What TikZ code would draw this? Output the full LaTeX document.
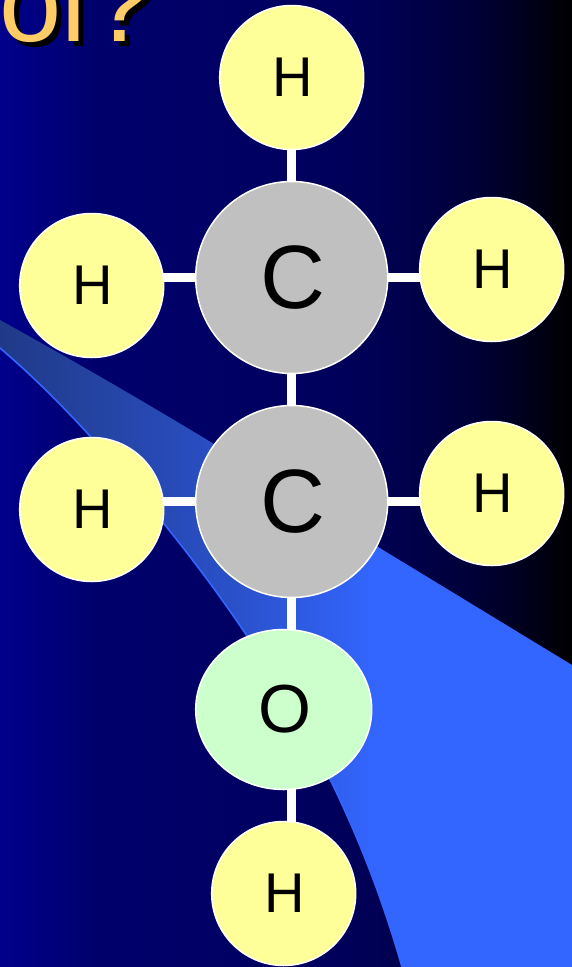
\documentclass[tikz,border=0pt]{standalone}
\usepackage{fontspec}
\setmainfont{Liberation Sans}
\usetikzlibrary{backgrounds,shapes.geometric}
\definecolor{bgl}{RGB}{0,0,140}
\definecolor{bgb}{RGB}{0,0,108}
\definecolor{bgc}{RGB}{0,0,96}
\definecolor{bgm}{RGB}{0,0,84}
\definecolor{bgn}{RGB}{0,0,55}
\definecolor{bge}{RGB}{0,0,25}
\definecolor{swa}{RGB}{32,58,135}
\definecolor{swb}{RGB}{42,80,200}
\definecolor{swc}{RGB}{51,102,255}
\definecolor{hyd}{RGB}{255,255,153}
\definecolor{carb}{RGB}{192,192,192}
\definecolor{oxy}{RGB}{204,255,204}
\definecolor{titlec}{RGB}{255,204,102}
% TikZ shows the middle 25bp..75bp of a declared shading across the path
\pgfdeclarehorizontalshading{bgshade}{100bp}{
  color(0bp)=(bgl); color(25bp)=(bgl); color(33.5bp)=(bgb); color(51bp)=(bgc); color(58bp)=(bgm); color(66.5bp)=(bgn); color(71.5bp)=(bge); color(75bp)=(black); color(100bp)=(black)}
\pgfdeclarehorizontalshading{swshade}{100bp}{
  color(0bp)=(swa); color(25bp)=(swa); color(45bp)=(swb); color(58bp)=(swc); color(100bp)=(swc)}
\tikzset{
  atom/.style={draw=white,line width=1.5pt,inner sep=0pt,text=black},
  hatom/.style={atom,circle,fill=hyd,minimum size=144pt,font=\fontsize{56}{56}\selectfont},
  catom/.style={atom,circle,fill=carb,minimum size=192pt,font=\fontsize{90}{90}\selectfont},
  oatom/.style={atom,ellipse,fill=oxy,minimum width=176pt,minimum height=160pt,font=\fontsize{68}{68}\selectfont},
  bond/.style={draw=white,line width=8.5pt},
  titletext/.style={inner sep=0pt,anchor=base west,font=\fontsize{112}{112}\selectfont}
}
\newcommand{\titlestr}{ol\hspace*{4pt}?}
\newcommand{\nudge}[1]{\hspace*{2pt}#1}
\begin{document}
\begin{tikzpicture}[x=1pt,y=-1pt]
\useasboundingbox (0,0) rectangle (572,967);
\begin{pgfonlayer}{background}
  \shade[shading=bgshade] (0,0) rectangle (572,967);
  \begin{scope}
    \clip (0,0) rectangle (572,967);
    \path[shading=swshade]
      (0,320) .. controls (130,392) and (260,470) .. (383,550)
      -- (572,665) -- (572,967) -- (402,967)
      .. controls (360,820) and (290,680) .. (165,525)
      .. controls (110,455) and (55,395) .. (0,348) -- cycle;
    \draw[swc,line width=1.6pt]
      (402,967) .. controls (360,820) and (290,680) .. (165,525)
      .. controls (110,455) and (55,395) .. (0,348);
    \node[titletext,text=black] (titleshadow) at (4,46) {\titlestr};
    \node[titletext,text=titlec] (titlemain) at (-1,41) {\titlestr};
  \end{scope}
\end{pgfonlayer}
\node[hatom] (Ht) at (291.7,77.5) {\nudge{H}};
\node[hatom] (Hr1) at (491.7,269.5) {\nudge{H}};
\node[hatom] (Hl1) at (91.7,285.5) {\nudge{H}};
\node[hatom] (Hr2) at (491.7,493.5) {\nudge{H}};
\node[hatom] (Hl2) at (91.7,509.5) {\nudge{H}};
\node[catom] (C1) at (291.7,277.5) {\nudge{C}};
\node[catom] (C2) at (291.7,501.5) {\nudge{C}};
\node[oatom] (O) at (283.7,709.5) {\nudge{O}};
\node[hatom] (Hb) at (283.7,893.5) {\nudge{H}};
\begin{pgfonlayer}{background}
  \draw[bond] (C1) -- (Ht);
  \draw[bond] (C1) -- (C2);
  \draw[bond] (C1) -- (C1 -| Hl1);
  \draw[bond] (C1) -- (C1 -| Hr1);
  \draw[bond] (C2) -- (C2 -| Hl2);
  \draw[bond] (C2) -- (C2 -| Hr2);
  \draw[bond] (C2) -- (C2 |- O);
  \draw[bond] (C2 |- O) -- (C2 |- Hb);
\end{pgfonlayer}
\end{tikzpicture}
\end{document}
